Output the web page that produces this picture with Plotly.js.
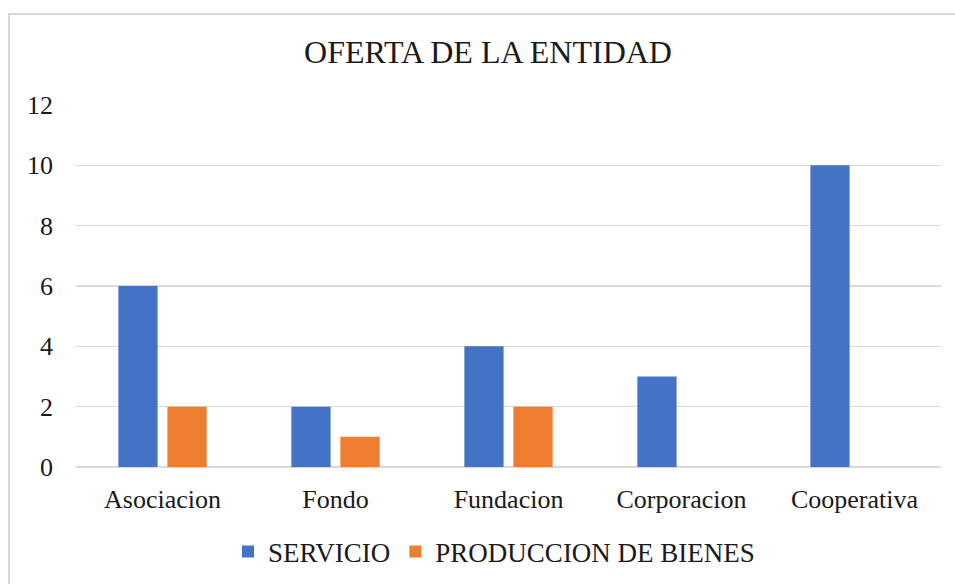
<!DOCTYPE html>
<html>
<head>
<meta charset="utf-8">
<script src="https://cdn.plot.ly/plotly-3.0.1.min.js"></script>
<style>
  html, body { margin: 0; padding: 0; background: #fff; }
  #chart { width: 955px; height: 584px; }
</style>
</head>
<body>
<div id="chart"></div>
<script>
const categories = ["Asociacion", "Fondo", "Fundacion", "Corporacion", "Cooperativa"];
const servicio = [6, 2, 4, 3, 10];
const produccion = [2, 1, 2, 0, 0];
const seriesNames = ["SERVICIO", "PRODUCCION DE BIENES"];
const yTicks = [0, 2, 4, 6, 8, 10, 12];

const W = 955, H = 584;
const L = 76, R = 14, T = 105, B = 117;
const pw = W - L - R, ph = H - T - B;
function px2x(p) { return (p - L) / pw; }
function py2y(p) { return (H - B - p) / ph; }

const font = "Liberation Serif";
const txt = "#1a1a1a";

const data = [
  { type: "bar", name: seriesNames[0], x: categories, y: servicio,
    marker: { color: "#4472C4" }, hoverinfo: "x+y+name" },
  { type: "bar", name: seriesNames[1], x: categories, y: produccion,
    marker: { color: "#ED7D31" }, hoverinfo: "x+y+name" }
];

const layout = {
  width: W, height: H,
  margin: { l: L, r: R, t: T, b: B, autoexpand: false },
  paper_bgcolor: "#fff", plot_bgcolor: "#fff",
  font: { family: font, size: 26, color: txt },
  title: { text: "OFERTA DE LA ENTIDAD", font: { family: font, size: 32, color: txt },
           x: 488 / W, xanchor: "center", xref: "container",
           y: 1 - 52 / H, yanchor: "middle", yref: "container" },
  barmode: "group", bargap: 0.433, bargroupgap: 0.2,
  xaxis: { type: "category", showgrid: false, showline: false, zeroline: false,
           ticks: "", ticklabelstandoff: 14,
           tickfont: { family: font, size: 26, color: txt } },
  yaxis: { range: [0, 12], tickvals: yTicks, ticktext: yTicks.map(String),
           showgrid: true, gridcolor: "#d9d9d9", gridwidth: 1.5,
           zeroline: true, zerolinecolor: "#d9d9d9", zerolinewidth: 1.5,
           showline: false, ticks: "", ticklabelstandoff: 22,
           tickfont: { family: font, size: 26, color: txt } },
  showlegend: true,
  legend: { orientation: "h", x: px2x(494), xanchor: "center", y: py2y(552), yanchor: "middle",
            font: { family: font, size: 27, color: txt }, itemwidth: 30,
            bgcolor: "rgba(0,0,0,0)" },
  shapes: [
    { type: "line", xref: "paper", yref: "paper", x0: px2x(8), x1: px2x(W + 5), y0: py2y(14), y1: py2y(14),
      line: { color: "#d9d9d9", width: 2 } },
    { type: "line", xref: "paper", yref: "paper", x0: px2x(9), x1: px2x(9), y0: py2y(14), y1: py2y(H + 5),
      line: { color: "#d9d9d9", width: 2 } }
  ]
};

Plotly.newPlot("chart", data, layout, { displayModeBar: false, staticPlot: true });
</script>
</body>
</html>
